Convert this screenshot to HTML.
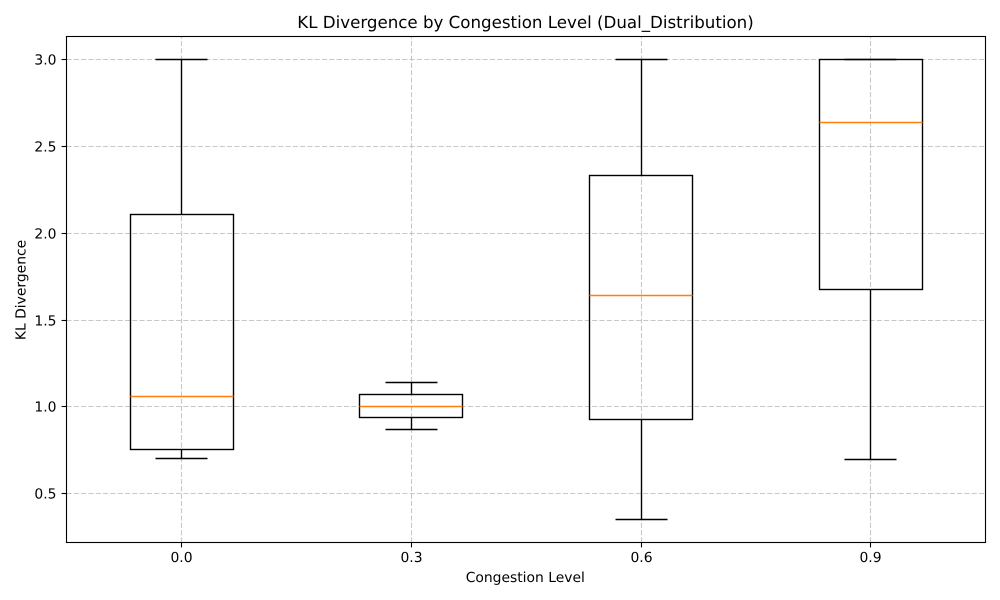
<!DOCTYPE html>
<html>
<head>
<meta charset="utf-8">
<style>
html,body{margin:0;padding:0;background:#fff;}
svg{display:block;}
text{font-family:"DejaVu Sans",sans-serif;fill:#000;text-rendering:geometricPrecision;}
</style>
</head>
<body>
<svg id="chart" xmlns="http://www.w3.org/2000/svg" width="1000" height="600" viewBox="0 0 1000 600">
<rect x="0" y="0" width="1000" height="600" fill="#fff"/>
<g id="grid"></g>
<g id="boxes"></g>
<g id="ticks"></g>
<rect x="66.5" y="36.5" width="919" height="506" fill="none" stroke="#000" stroke-width="1.1"/>
<text x="525.5" y="28" text-anchor="middle" font-size="16.67">KL Divergence by Congestion Level (Dual_Distribution)</text>
<text x="525.3" y="582" text-anchor="middle" font-size="13.89">Congestion Level</text>
<text transform="translate(25.5 290) rotate(-90)" text-anchor="middle" font-size="13.89">KL Divergence</text>
</svg>
<script>
const categories = ["0.0", "0.3", "0.6", "0.9"];
const whiskerLow = [0.705, 0.87, 0.35, 0.698];
const quartile1 = [0.755, 0.94, 0.925, 1.675];
const medians = [1.06, 1.00, 1.64, 2.64];
const quartile3 = [2.11, 1.07, 2.33, 3.00];
const whiskerHigh = [3.00, 1.14, 3.00, 3.00];
const yTickValues = [0.5, 1.0, 1.5, 2.0, 2.5, 3.0];

const NS = "http://www.w3.org/2000/svg";
const gridGroup = document.getElementById("grid");
const boxGroup = document.getElementById("boxes");
const tickGroup = document.getElementById("ticks");

function snap(p) { return Math.floor(p) + 0.5; }
function xRaw(i) { return 181.6 + i * 229.7; }
function xScale(i) { return snap(xRaw(i)); }
function yScale(v) { return snap(59.5 + (3 - v) * 173.7); }

function addLine(parent, name, x1, y1, x2, y2, stroke, width, dash) {
  const el = document.createElementNS(NS, "line");
  
  
  el.setAttribute("x1", x1);
  el.setAttribute("y1", y1);
  el.setAttribute("x2", x2);
  el.setAttribute("y2", y2);
  el.setAttribute("stroke", stroke);
  el.setAttribute("stroke-width", width);
  if (dash) el.setAttribute("stroke-dasharray", dash);
  parent.appendChild(el);
}

function addLabel(parent, name, x, y, anchor, content) {
  const el = document.createElementNS(NS, "text");
  
  
  el.setAttribute("x", x);
  el.setAttribute("y", y);
  el.setAttribute("text-anchor", anchor);
  el.setAttribute("font-size", "13.89");
  el.textContent = content;
  parent.appendChild(el);
}

const GRID_COLOR = "rgba(176,176,176,0.7)";
const GRID_DASH = "5.1 2.2";
const AXIS_LEFT = 66.5, AXIS_RIGHT = 985.5, AXIS_TOP = 36.5, AXIS_BOTTOM = 542.5;

yTickValues.forEach(function (v) {
  const y = yScale(v);
  addLine(gridGroup, "y-grid-line", AXIS_LEFT, y, AXIS_RIGHT, y, GRID_COLOR, 1.1, GRID_DASH);
  addLine(tickGroup, "y-tick-mark", AXIS_LEFT - 4.9, y, AXIS_LEFT, y, "#000", 1.1);
  addLabel(tickGroup, "y-tick-label", AXIS_LEFT - 10, y + 5, "end", v.toFixed(1));
});

categories.forEach(function (c, i) {
  const x = xScale(i);
  addLine(gridGroup, "x-grid-line", x, AXIS_BOTTOM, x, AXIS_TOP, GRID_COLOR, 1.1, GRID_DASH);
  addLine(tickGroup, "x-tick-mark", x, AXIS_BOTTOM, x, AXIS_BOTTOM + 4.9, "#000", 1.1);
  addLabel(tickGroup, "x-tick-label", x, AXIS_BOTTOM + 19.5, "middle", c);
});

const BOX_HALF = 51.5, CAP_HALF = 26;
categories.forEach(function (c, i) {
  const x = xScale(i);
  const boxLeft = snap(xRaw(i) - BOX_HALF);
  const boxRight = snap(xRaw(i) + BOX_HALF);
  const yLow = yScale(whiskerLow[i]);
  const yQ1 = yScale(quartile1[i]);
  const yMed = yScale(medians[i]);
  const yQ3 = yScale(quartile3[i]);
  const yHigh = yScale(whiskerHigh[i]);
  addLine(boxGroup, "lower-whisker-" + c, x, yQ1, x, yLow, "#000", 1.39);
  addLine(boxGroup, "upper-whisker-" + c, x, yQ3, x, yHigh, "#000", 1.39);
  addLine(boxGroup, "lower-cap-" + c, x - CAP_HALF, yLow, x + CAP_HALF, yLow, "#000", 1.39);
  addLine(boxGroup, "upper-cap-" + c, x - CAP_HALF, yHigh, x + CAP_HALF, yHigh, "#000", 1.39);
  const box = document.createElementNS(NS, "rect");
  
  
  box.setAttribute("x", boxLeft);
  box.setAttribute("y", yQ3);
  box.setAttribute("width", boxRight - boxLeft);
  box.setAttribute("height", yQ1 - yQ3);
  box.setAttribute("fill", "none");
  box.setAttribute("stroke", "#000");
  box.setAttribute("stroke-width", "1.39");
  boxGroup.appendChild(box);
  addLine(boxGroup, "median-line-" + c, boxLeft, yMed, boxRight, yMed, "#ff7f0e", 1.39);
});
</script>
</body>
</html>
